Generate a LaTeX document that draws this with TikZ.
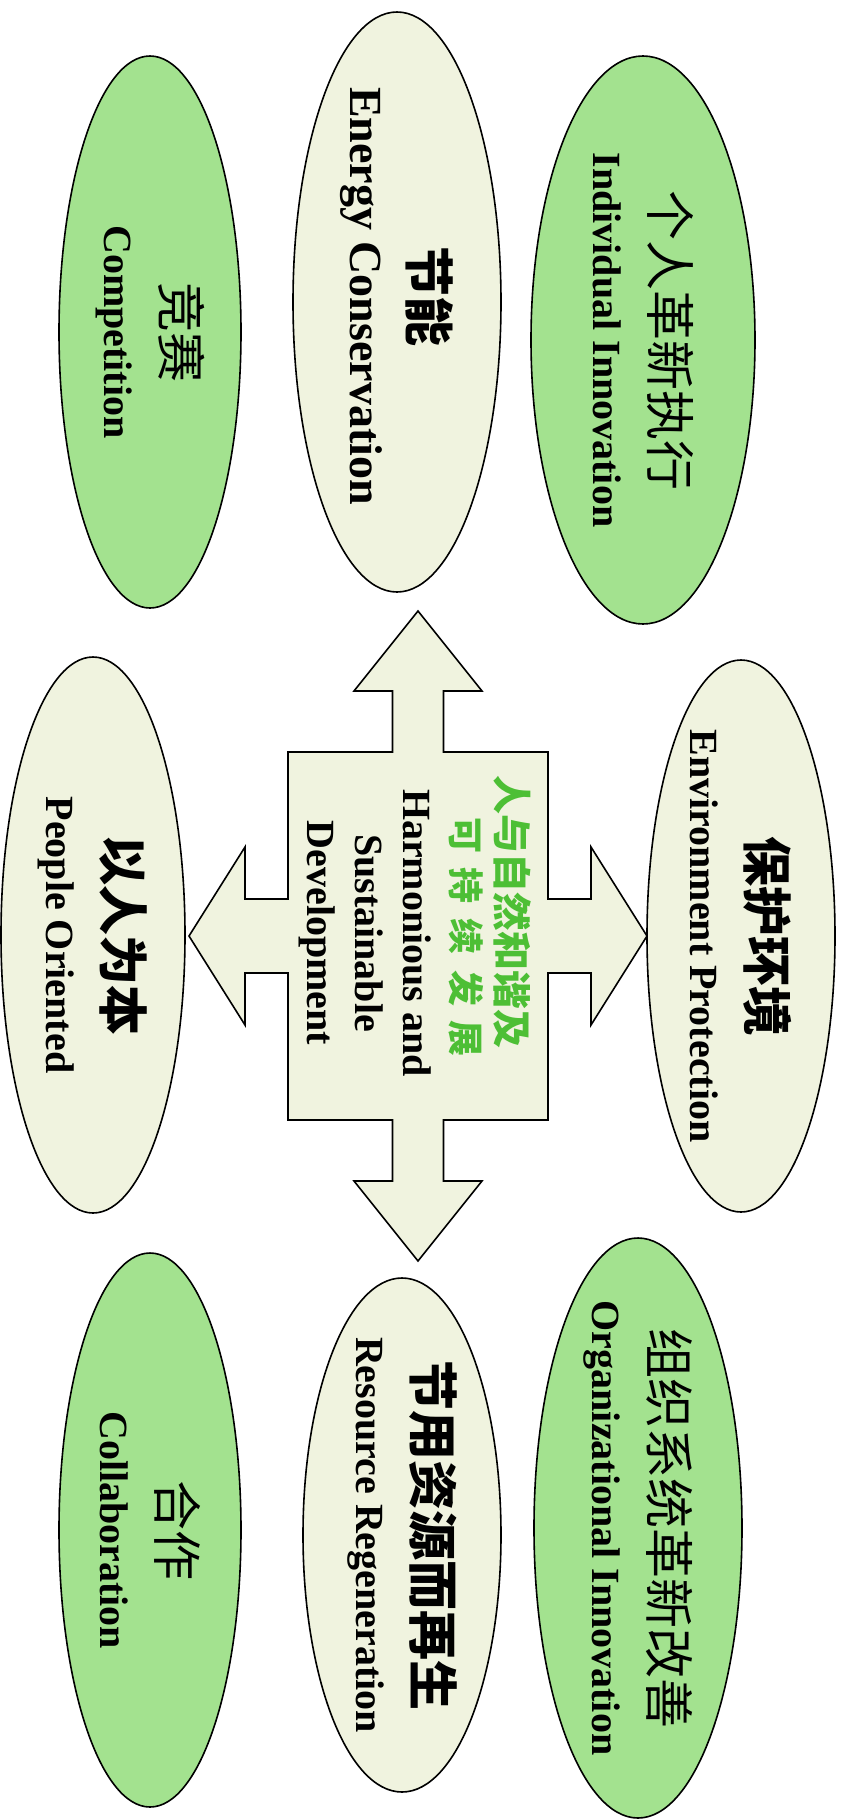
\documentclass[tikz,border=0pt]{standalone}
\usepackage{fontspec}
\setmainfont{Liberation Serif}[BoldFont={Liberation Serif Bold}]
\newfontfamily\cjk{Noto Sans CJK SC}
\definecolor{leafgreen}{HTML}{A3E28F}
\definecolor{paleyellow}{HTML}{F0F3DF}
\definecolor{textgreen}{HTML}{4DBF35}
\tikzset{
  oval/.style={draw=black, line width=1.6pt},
  greenoval/.style={oval, fill=leafgreen},
  paleoval/.style={oval, fill=paleyellow},
  caption/.style={rotate=-90, align=center, inner sep=0pt,
    font=\bfseries\fontsize{40}{58}\selectfont},
}
\newcommand{\zh}[1]{{\cjk\mdseries\fontsize{50}{58}\selectfont #1}}
\newcommand{\zhb}[1]{{\cjk\bfseries\fontsize{50}{58}\selectfont #1}}

\begin{document}
\begin{tikzpicture}[x=1pt,y=-1pt]
\useasboundingbox (0,0) rectangle (847,1820);
\coordinate (Comp) at (150,332);
\coordinate (Ener) at (397,302);
\coordinate (Indi) at (643,340);
\coordinate (Peop) at (93,935);
\coordinate (Envi) at (741,936);
\coordinate (Coll) at (150,1530);
\coordinate (Reso) at (402,1535);
\coordinate (Orga) at (638,1528);
\coordinate (Hub) at (418,936);
% outer ovals
\draw [greenoval] (Comp) ellipse [x radius=91, y radius=276];
\draw [paleoval] (Ener) ellipse [x radius=104, y radius=290];
\draw [greenoval] (Indi) ellipse [x radius=112, y radius=284];
\draw [paleoval] (Peop) ellipse [x radius=92, y radius=278];
\draw [paleoval] (Envi) ellipse [x radius=94, y radius=276];
\draw [greenoval] (Coll) ellipse [x radius=91, y radius=277];
\draw [paleoval] (Reso) ellipse [x radius=99, y radius=257];
\draw [greenoval] (Orga) ellipse [x radius=104, y radius=290];
% four-way arrow in the middle
\draw [oval, fill=paleyellow, line join=miter]
  (418,611) -- (482,691) -- (443.5,691) -- (443.5,752) -- (548,752)
  -- (548,899) -- (591,899) -- (591,847) -- (647,936) -- (591,1025)
  -- (591,973) -- (548,973) -- (548,1120) -- (443.5,1120) -- (443.5,1181)
  -- (482,1181) -- (418,1261) -- (354,1181) -- (392.5,1181) -- (392.5,1120)
  -- (288,1120) -- (288,973) -- (245,973) -- (245,1025) -- (189,936)
  -- (245,847) -- (245,899) -- (288,899) -- (288,752) -- (392.5,752)
  -- (392.5,691) -- (354,691) -- cycle;
\node [caption] (comptext) at (Comp) {\zh{竞赛}\\Competition};
\node [caption, font=\bfseries\fontsize{46}{60}\selectfont]
  (enertext) at ([yshift=6]Ener) {\zhb{节能}\\Energy Conservation};
\node [caption] (inditext) at (Indi) {\zh{个人革新执行}\\Individual Innovation};
\node [caption] (peoptext) at (Peop) {\zhb{以人为本}\\People Oriented};
\node [caption] (envitext) at (Envi) {\zhb{保护环境}\\Environment Protection};
\node [caption] (colltext) at (Coll) {\zh{合作}\\Collaboration};
\node [caption] (resotext) at (Reso) {\zhb{节用资源而再生}\\Resource Regeneration};
\node [caption] (orgatext) at (Orga) {\zh{组织系统革新改善}\\Organizational Innovation};
\node [caption, font=\cjk\bfseries\fontsize{39}{46}\selectfont, text=textgreen]
  (hubzh) at (512,912) {人与自然和谐及};
\node [caption, font=\cjk\bfseries\fontsize{36}{46}\selectfont, text=textgreen]
  (hubzhb) at (466,937) {可\hspace{15pt}持\hspace{15pt}续\hspace{15pt}发\hspace{15pt}展};
\node [caption, font=\bfseries\fontsize{40}{48}\selectfont]
  (hubtext) at (365,933) {Harmonious and\\Sustainable\\Development};
\end{tikzpicture}
\end{document}
